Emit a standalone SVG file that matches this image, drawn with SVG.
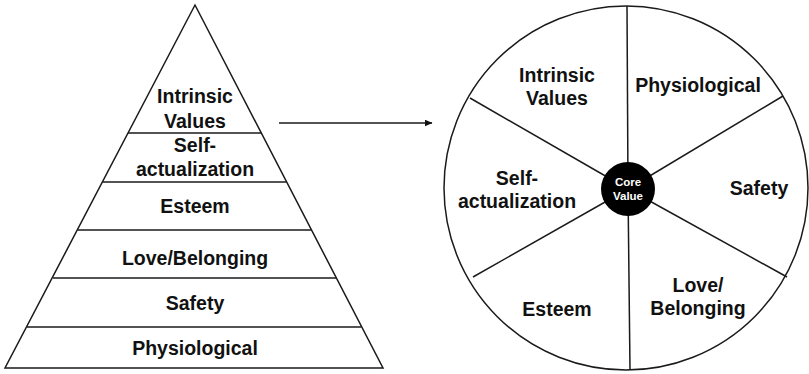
<svg xmlns="http://www.w3.org/2000/svg" width="809" height="374" viewBox="0 0 809 374">
<style>
.ln{stroke:#1a1a1a;stroke-width:1.5;fill:none}
.t{font-family:"Liberation Sans",Arial,Helvetica,sans-serif;font-weight:bold;font-size:19.5px;fill:#111;text-anchor:middle}
.c{font-family:"Liberation Sans",Arial,Helvetica,sans-serif;font-weight:bold;font-size:11.5px;fill:#fff;text-anchor:middle}
</style>
<defs>
<marker id="ah" markerWidth="8" markerHeight="7" refX="7.5" refY="3.5" orient="auto" markerUnits="userSpaceOnUse">
<path d="M0,0 L8,3.5 L0,7 Z" fill="#111"/>
</marker>
</defs>
<rect width="809" height="374" fill="#fff"/>
<g id="pyramid">
<polygon class="ln" points="195,5 383,368 5,368"/>
<line class="ln" x1="128" y1="133" x2="261" y2="133"/>
<line class="ln" x1="103" y1="182" x2="286" y2="182"/>
<line class="ln" x1="78" y1="230" x2="311" y2="230"/>
<line class="ln" x1="53" y1="278" x2="336" y2="278"/>
<line class="ln" x1="27" y1="327" x2="361" y2="327"/>
</g>
<g id="p-intrinsic"><text class="t" x="195" y="103">Intrinsic</text><text class="t" x="195" y="128">Values</text></g>
<g id="p-self"><text class="t" x="195" y="152">Self-</text><text class="t" x="195" y="176">actualization</text></g>
<g id="p-esteem"><text class="t" x="195" y="213">Esteem</text></g>
<g id="p-love"><text class="t" x="195" y="265">Love/Belonging</text></g>
<g id="p-safety"><text class="t" x="195" y="310">Safety</text></g>
<g id="p-phys"><text class="t" x="195" y="355">Physiological</text></g>
<g id="connectors">
<line class="ln" x1="279" y1="123" x2="432" y2="123" marker-end="url(#ah)"/>
</g>
<g id="wheel">
<circle class="ln" cx="626" cy="188" r="182"/>
<line class="ln" x1="627" y1="6" x2="628" y2="189"/>
<line class="ln" x1="630" y1="370" x2="628" y2="189"/>
<line class="ln" x1="470" y1="98" x2="628" y2="189"/>
<line class="ln" x1="783" y1="96" x2="628" y2="189"/>
<line class="ln" x1="473" y1="277" x2="628" y2="189"/>
<line class="ln" x1="787" y1="277" x2="628" y2="189"/>
</g>
<g id="core"><circle cx="628" cy="189" r="27" fill="#000"/><text class="c" x="628" y="186">Core</text><text class="c" x="628" y="200">Value</text></g>
<g id="w-intrinsic"><text class="t" x="557" y="82">Intrinsic</text><text class="t" x="557" y="105">Values</text></g>
<g id="w-phys"><text class="t" x="698" y="92">Physiological</text></g>
<g id="w-self"><text class="t" x="517" y="185">Self-</text><text class="t" x="517" y="208">actualization</text></g>
<g id="w-safety"><text class="t" x="759" y="195">Safety</text></g>
<g id="w-esteem"><text class="t" x="557" y="316">Esteem</text></g>
<g id="w-love"><text class="t" x="698" y="292">Love/</text><text class="t" x="698" y="315">Belonging</text></g>
</svg>
